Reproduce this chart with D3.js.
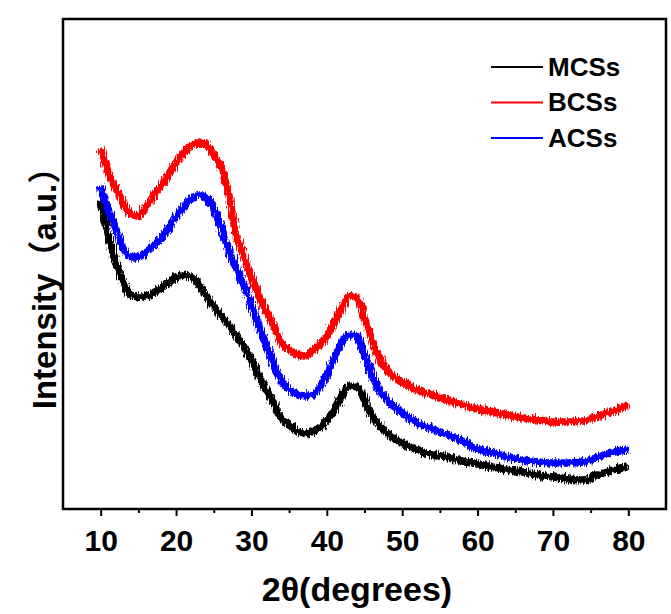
<!DOCTYPE html>
<html>
<head>
<meta charset="utf-8">
<script src="https://cdn.jsdelivr.net/npm/d3@7"></script>
<style>
  body { margin: 0; background: #fff; }
  text { font-family: "Liberation Sans", Arial, "Noto Sans CJK SC", sans-serif; font-weight: bold; }
</style>
</head>
<body>
<div class="canvas"></div>
<script>
// 2theta positions (degrees)
const angles = [10, 11, 12, 13, 14, 15, 16, 17, 18, 19, 20, 21, 22, 23, 24, 25, 26, 27, 28, 29,
    30, 31, 32, 33, 34, 35, 36, 37, 38, 39, 40, 41, 42, 43, 44, 45, 46, 47, 48, 49,
    50, 52, 54, 56, 58, 60, 62, 64, 66, 68, 70, 72, 74, 76, 78, 80];

// intensities (a.u.)
const mcss = [1545, 1370, 1235, 1130, 1070, 1060, 1065, 1080, 1105, 1130, 1160, 1170, 1160, 1125, 1065, 1015, 965, 920, 865, 810,
    745, 665, 590, 525, 455, 420, 390, 380, 385, 405, 445, 495, 565, 615, 610, 545, 470, 415, 380, 350,
    330, 295, 270, 260, 240, 225, 210, 195, 185, 170, 160, 150, 145, 170, 195, 210];
const bcss = [1805, 1685, 1605, 1530, 1475, 1465, 1510, 1565, 1615, 1675, 1730, 1780, 1815, 1830, 1820, 1770, 1705, 1570, 1370, 1265,
    1160, 1065, 985, 915, 830, 795, 775, 765, 785, 820, 865, 935, 1005, 1065, 1055, 955, 845, 755, 695, 660,
    635, 595, 570, 545, 520, 500, 485, 470, 455, 445, 435, 435, 440, 465, 490, 520];
const acss = [1615, 1495, 1405, 1305, 1260, 1260, 1285, 1315, 1355, 1405, 1460, 1510, 1550, 1570, 1555, 1505, 1405, 1295, 1205, 1115,
    1020, 910, 820, 720, 640, 600, 575, 565, 570, 605, 675, 755, 830, 870, 865, 770, 670, 595, 545, 510,
    480, 430, 400, 370, 340, 300, 280, 260, 245, 235, 230, 230, 235, 260, 285, 295];

const seriesNames = ['MCSs', 'BCSs', 'ACSs'];
const seriesColors = ['#000000', '#ff0000', '#0000ff'];
const majorTicks = [10, 20, 30, 40, 50, 60, 70, 80];
const minorTicks = [15, 25, 35, 45, 55, 65, 75];

const series = [mcss, bcss, acss].map((vals, i) => ({
    name: seriesNames[i],
    color: seriesColors[i],
    values: vals.map((v, j) => ({ x: angles[j], y: v }))
}));

const svg = d3.select('.canvas')
    .append('svg')
        .attr('width', 671)
        .attr('height', 614);

// margins and dimensions
const margin = { top: 19, right: 5, bottom: 105, left: 63 };
const graphWidth = 671 - margin.left - margin.right;
const graphHeight = 614 - margin.top - margin.bottom;

const graph = svg.append('g')
    .attr('transform', `translate(${margin.left}, ${margin.top})`);

// scales
const x = d3.scaleLinear()
    .domain([5, 85])
    .range([0, graphWidth]);

const y = d3.scaleLinear()
    .domain([0, 2450])
    .range([graphHeight, 0]);

// jagged look of the raw scan
const defs = svg.append('defs');
const filter = defs.append('filter')
    .attr('id', 'noisy')
    .attr('x', '-5%').attr('y', '-5%')
    .attr('width', '110%').attr('height', '110%');
filter.append('feTurbulence')
    .attr('type', 'fractalNoise')
    .attr('baseFrequency', '0.9 0.12')
    .attr('numOctaves', 2)
    .attr('seed', 3)
    .attr('result', 'turb');
filter.append('feDisplacementMap')
    .attr('in', 'SourceGraphic')
    .attr('in2', 'turb')
    .attr('scale', 8)
    .attr('xChannelSelector', 'R')
    .attr('yChannelSelector', 'G');

const line = d3.line()
    .x(d => x(d.x))
    .y(d => y(d.y))
    .curve(d3.curveMonotoneX);

graph.selectAll('path.trace')
    .data(series)
    .enter()
    .append('path')
        .attr('class', 'trace')
        .attr('d', d => line(d.values))
        .attr('fill', 'none')
        .attr('stroke', d => d.color)
        .attr('stroke-width', 7.5)
        .attr('stroke-linejoin', 'round')
        .attr('filter', 'url(#noisy)');

// bottom axis: major + minor ticks
const xAxis = d3.axisBottom(x)
    .tickValues(majorTicks)
    .tickSize(7)
    .tickPadding(14)
    .tickFormat(d3.format('d'));

const xMinor = d3.axisBottom(x)
    .tickValues(minorTicks)
    .tickSize(4)
    .tickFormat('');

const xAxisGroup = graph.append('g')
    .attr('transform', `translate(0, ${graphHeight})`)
    .call(xAxis);
graph.append('g')
    .attr('transform', `translate(0, ${graphHeight})`)
    .call(xMinor)
    .call(g => g.select('.domain').remove())
    .selectAll('line')
        .attr('stroke-width', 2);

xAxisGroup.select('.domain').remove();
xAxisGroup.selectAll('line').attr('stroke-width', 2);
xAxisGroup.selectAll('text')
    .attr('font-size', 30)
    .attr('fill', '#000');

// frame
graph.append('rect')
    .attr('width', graphWidth)
    .attr('height', graphHeight)
    .attr('fill', 'none')
    .attr('stroke', '#000')
    .attr('stroke-width', 2.5);

// axis titles
svg.append('text')
    .attr('x', 357)
    .attr('y', 601)
    .attr('text-anchor', 'middle')
    .attr('font-size', 34)
    .text('2θ(degrees)');

svg.append('text')
    .attr('transform', 'translate(56, 280) rotate(-90)')
    .attr('text-anchor', 'middle')
    .attr('font-size', 33)
    .text('Intensity（a.u.）');

// legend
const legend = svg.append('g')
    .attr('transform', 'translate(491, 67)');

const items = legend.selectAll('g')
    .data(series)
    .enter()
    .append('g')
        .attr('transform', (d, i) => `translate(0, ${i * 35.5})`);

items.append('line')
    .attr('x1', 0).attr('x2', 52)
    .attr('stroke', d => d.color)
    .attr('stroke-width', 2);

items.append('text')
    .attr('x', 57)
    .attr('y', 8.5)
    .attr('font-size', 26)
    .text(d => d.name);
</script>
</body>
</html>
